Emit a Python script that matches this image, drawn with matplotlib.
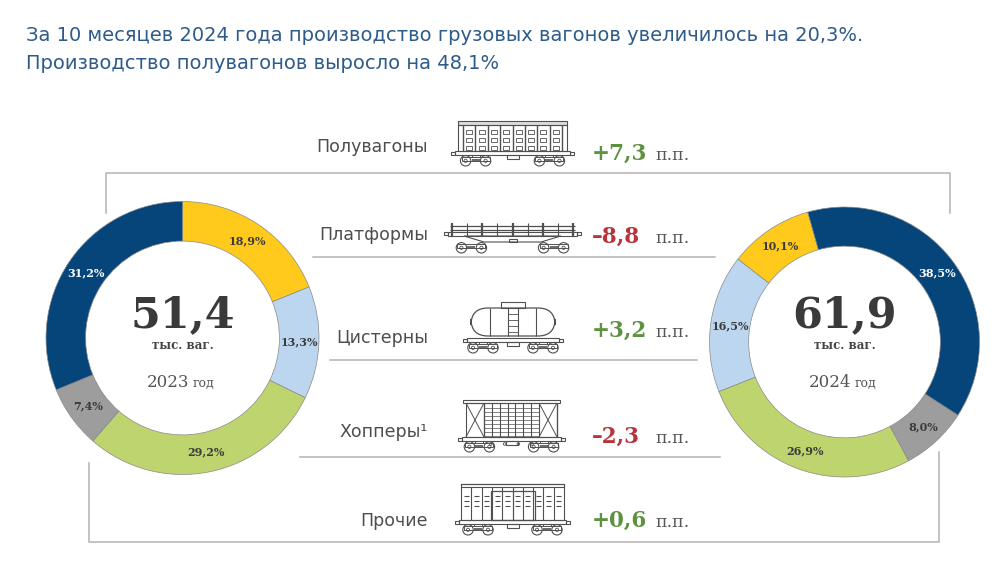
import matplotlib
matplotlib.use('Agg')
import matplotlib.pyplot as plt
from matplotlib.patches import Rectangle, Circle, FancyBboxPatch, Polygon

# ---------------- data ----------------
categories = ['Полувагоны', 'Платформы', 'Цистерны', 'Хопперы¹', 'Прочие']
share_2023 = [31.2, 18.9, 13.3, 29.2, 7.4]
share_2024 = [38.5, 10.1, 16.5, 26.9, 8.0]
change_pp = [7.3, -8.8, 3.2, -2.3, 0.6]
totals = [51.4, 61.9]
years = ['2023', '2024']
title_lines = ['За 10 месяцев 2024 года производство грузовых вагонов увеличилось на 20,3%.',
               'Производство полувагонов выросло на 48,1%']
unit = 'тыс. ваг.'
colors = ['#06457a', '#FFCA1C', '#BCD6EF', '#BED46E', '#9D9D9D']
pie_order = [1, 2, 3, 4, 0]   # Платформы, Цистерны, Хопперы, Прочие, Полувагоны

W, H = 1001, 576
fig = plt.figure(figsize=(W / 100, H / 100), dpi=100)
fig.patch.set_facecolor('white')
ax0 = fig.add_axes([0, 0, 1, 1])
ax0.set_xlim(0, W)
ax0.set_ylim(H, 0)
ax0.axis('off')

SANS = 'DejaVu Sans'
SERIF = 'DejaVu Serif'

# ---------------- title ----------------
t1 = ax0.text(26, 41, title_lines[0], fontsize=15, family=SANS, color='#2d5b8a', va='baseline')
t2 = ax0.text(26, 69, title_lines[1], fontsize=15, family=SANS, color='#2d5b8a', va='baseline')
fig.canvas.draw()
r = fig.canvas.get_renderer()
w1 = t1.get_window_extent(r).width
fs = 15 * 841 / w1
t1.set_fontsize(fs)
t2.set_fontsize(fs)

# ---------------- frame lines ----------------
GL = '#b3b3b3'
LW = 1.1
ax0.plot([106, 106, 950, 950], [213, 173, 173, 213], color=GL, lw=LW)
ax0.plot([89, 89, 939, 939], [463, 542, 542, 452], color=GL, lw=LW)
for y, xa, xb in [(257, 313, 715), (360, 330, 697), (457, 300, 720)]:
    ax0.plot([xa, xb], [y, y], color=GL, lw=LW)

# ---------------- icons ----------------
LC = '#505050'


def ln(xs, ys, lw=0.8):
    ax0.plot(xs, ys, color=LC, lw=lw, solid_capstyle='butt')


def rc(x, y, w, h, lw=0.8, fc='none'):
    ax0.add_patch(Rectangle((x, y), w, h, facecolor=fc, edgecolor=LC, lw=lw))


def underframe(x0, x1, yb, fy):
    L = x1 - x0
    wr = 5.2
    wy = yb - wr
    rc(x0 + 4, fy, L - 8, 4)
    rc(x0, fy + 0.5, 4, 3)
    rc(x1 - 4, fy + 0.5, 4, 3)
    rc((x0 + x1) / 2 - 6, fy + 4, 12, 4)
    for cx in (x0 + 0.2 * L, x1 - 0.2 * L):
        for dx in (-10, 10):
            ax0.add_patch(Circle((cx + dx, wy), wr, fill=False, ec=LC, lw=0.8))
            ax0.add_patch(Circle((cx + dx, wy), 1.6, fill=False, ec=LC, lw=0.6))
        rc(cx - 14, wy - 3.5, 28, 3.5, lw=0.7)
        ln([cx - 4, cx + 4], [wy - 1, wy - 1], lw=1.2)
        ln([cx - 4, cx - 4], [fy + 4, wy - 3.5], lw=0.7)
        ln([cx + 4, cx + 4], [fy + 4, wy - 3.5], lw=0.7)


def gondola(x0, x1, yt, yb):
    fy = yb - 15
    L = x1 - x0
    rc(x0 + 7, yt, L - 14, 4, fc='#dddddd')
    rc(x0 + 7, yt + 4, L - 14, fy - yt - 4)
    n = 8
    bx0, bx1 = x0 + 12, x1 - 12
    step = (bx1 - bx0) / n
    for i in range(n + 1):
        ln([bx0 + i * step] * 2, [yt + 4, fy], lw=1.0)
    for i in range(n):
        cx = bx0 + (i + 0.5) * step
        for yy in (yt + 9, yt + 17, yt + 25):
            rc(cx - 3, yy, 6, 4, lw=0.6)
    underframe(x0, x1, yb, fy)


def platform(x0, x1, yt, yb):
    fy = yb - 15
    L = x1 - x0
    ln([x0 + 6, x1 - 6], [yt + 3, yt + 3], lw=0.9)
    ln([x0 + 6, x1 - 6], [yt + 7, yt + 7], lw=0.9)
    rc(x0 + 4, yt + 9, L - 8, 4)
    for i in range(9):
        x = x0 + 8 + i * (L - 16) / 8
        ln([x, x], [yt, yt + 13], lw=1.6 if i % 2 == 0 else 0.8)
    cx = (x0 + x1) / 2
    ax0.add_patch(Polygon([[x0 + 20, yt + 13], [x0 + 40, fy + 4], [x1 - 40, fy + 4], [x1 - 20, yt + 13]],
                          closed=True, fill=False, ec=LC, lw=0.8))
    rc(x0, yt + 9, 4, 3)
    rc(x1 - 4, yt + 9, 4, 3)
    L2 = L
    wr = 5.2
    wy = yb - wr
    for bc in (x0 + 0.2 * L2, x1 - 0.2 * L2):
        for dx in (-10, 10):
            ax0.add_patch(Circle((bc + dx, wy), wr, fill=False, ec=LC, lw=0.8))
            ax0.add_patch(Circle((bc + dx, wy), 1.6, fill=False, ec=LC, lw=0.6))
        rc(bc - 14, wy - 3.5, 28, 3.5, lw=0.7)
        ln([bc - 4, bc + 4], [wy - 1, wy - 1], lw=1.2)
    rc(cx - 4, fy + 1, 8, 3)


def tank(x0, x1, yt, yb):
    fy = yb - 15
    L = x1 - x0
    cx = (x0 + x1) / 2
    body_top = yt + 6
    body_bot = fy - 2
    ax0.add_patch(FancyBboxPatch((x0 + 8, body_top), L - 16, body_bot - body_top,
                                 boxstyle='round,pad=0,rounding_size=17', fill=False, ec=LC, lw=0.9))
    rc(cx - 12, yt, 24, 6)
    ln([cx - 5, cx - 5], [body_top, body_bot], lw=0.8)
    ln([cx + 5, cx + 5], [body_top, body_bot], lw=0.8)
    for yy in range(int(body_top + 6), int(body_bot), 6):
        ln([cx - 5, cx + 5], [yy, yy], lw=0.6)
    ln([x0 + 27, x0 + 27], [body_top, body_bot], lw=0.8)
    ln([x1 - 27, x1 - 27], [body_top, body_bot], lw=0.8)
    underframe(x0, x1, yb, fy)


def hopper(x0, x1, yt, yb):
    fy = yb - 15
    L = x1 - x0
    rc(x0 + 5, yt, L - 10, 3)
    rc(x0 + 8, yt + 3, L - 16, fy - yt - 3)
    e = 18
    for (a, b) in ((x0 + 8, x0 + 8 + e), (x1 - 8 - e, x1 - 8)):
        ln([a, b], [yt + 3, fy], lw=0.7)
        ln([a, b], [fy, yt + 3], lw=0.7)
        ln([b, b], [yt + 3, fy], lw=0.9)
    m0, m1 = x0 + 8 + e, x1 - 8 - e
    n = 7
    for i in range(n + 1):
        ln([m0 + i * (m1 - m0) / n] * 2, [yt + 3, fy], lw=0.8)
    for yy in range(int(yt + 8), int(fy), 4):
        ln([m0, m1], [yy, yy], lw=0.5)
    for i in range(4):
        x = m0 + (i + 0.5) * (m1 - m0) / 4
        ax0.add_patch(Circle((x, fy + 7), 1.3, fill=False, ec=LC, lw=0.6))
    underframe(x0, x1, yb, fy)


def boxcar(x0, x1, yt, yb):
    fy = yb - 15
    L = x1 - x0
    rc(x0 + 6, yt, L - 12, fy - yt)
    rc(x0 + 6, yt, L - 12, 3)
    n = 10
    for i in range(1, n):
        ln([x0 + 6 + i * (L - 12) / n] * 2, [yt + 3, fy], lw=0.8)
    cx = (x0 + x1) / 2
    rc(cx - 22, yt + 7, 44, fy - yt - 7, lw=0.9)
    ln([cx, cx], [yt + 7, fy], lw=0.8)
    for i in range(n):
        xc = x0 + 6 + (i + 0.5) * (L - 12) / n
        for yy in (yt + 12, yt + 17, yt + 22):
            ln([xc - 2.5, xc + 2.5], [yy, yy], lw=0.8)
    underframe(x0, x1, yb, fy)


icon_boxes = [(451, 574, 121, 166), (444, 581, 223, 253), (463, 563, 302, 353),
              (458, 565, 400, 452), (455, 570, 484, 535)]
icon_funcs = [gondola, platform, tank, hopper, boxcar]
for f, (a, b, c, d) in zip(icon_funcs, icon_boxes):
    f(a, b, c, d)

# ---------------- row labels ----------------
label_base = [152, 240, 343, 437, 526]
value_base = [160, 243, 337, 443, 527]
for i, cat in enumerate(categories):
    ax0.text(428, label_base[i], cat, ha='right', va='baseline', fontsize=12.5,
             family=SANS, color='#4d4d4d')
    v = change_pp[i]
    s = f"{v:+.1f}".replace('.', ',').replace('-', '–')
    col = '#5e9140' if v > 0 else '#b7343a'
    ax0.text(592, value_base[i], s, ha='left', va='baseline', fontsize=15.5,
             family=SERIF, weight='bold', color=col)
    ax0.text(655, value_base[i], 'п.п.', ha='left', va='baseline', fontsize=12.5,
             family=SERIF, color='#555555')

# ---------------- donuts ----------------
def fmt_pct(p):
    return f"{p:.1f}".replace('.', ',') + '%'


def donut(cx, cy, rad, shares, total, year, counterclock, startangle, offs):
    pad = 1.02
    s = rad * pad
    ax = fig.add_axes([(cx - s) / W, (H - cy - s) / H, 2 * s / W, 2 * s / H])
    ax.patch.set_alpha(0)
    vals = [shares[k] for k in pie_order]
    cols = [colors[k] for k in pie_order]
    wedges, texts, autotexts = ax.pie(vals, colors=cols, startangle=startangle,
                                      counterclock=counterclock, radius=1,
                                      autopct=fmt_pct, pctdistance=0.855,
                                      wedgeprops=dict(width=0.29, edgecolor='#8a8a8a', linewidth=0.5),
                                      textprops=dict(family=SERIF, weight='bold', fontsize=8,
                                                     color='#3b3b3b'))
    for k, t in zip(pie_order, autotexts):
        if k == 0:
            t.set_color('white')
    ax.set_xlim(-pad, pad)
    ax.set_ylim(-pad, pad)
    ax.set_aspect('equal')
    ax.axis('off')
    ax.text(0, offs[0], f"{total:.1f}".replace('.', ','), ha='center', va='baseline',
            fontsize=31, family=SERIF, weight='bold', color='#3a3a3a')
    ax.text(0, offs[1], unit, ha='center', va='baseline', fontsize=8.5, family=SERIF,
            weight='bold', color='#444444')
    ax.text(0.048, offs[2], year, ha='right', va='baseline', fontsize=12, family=SERIF,
            color='#555555')
    ax.text(0.077, offs[2], 'год', ha='left', va='baseline', fontsize=9, family=SERIF,
            color='#555555')


donut(182.5, 338, 136.5, share_2023, totals[0], years[0], False, 90, (0.08, -0.08, -0.36))
donut(844.5, 342, 135, share_2024, totals[1], years[1], True, 105.8, (0.111, -0.052, -0.333))

fig.savefig('out.png', dpi=100, facecolor='white')
